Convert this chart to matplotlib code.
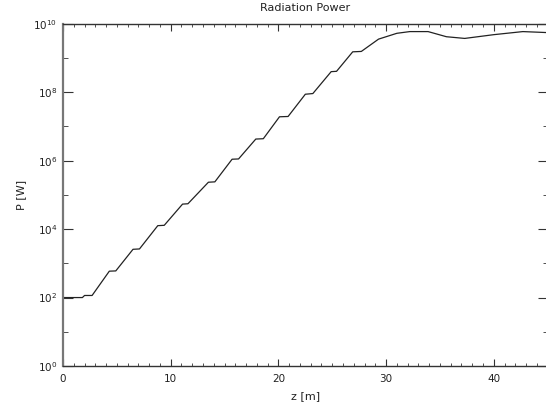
import math

import matplotlib

matplotlib.use("Agg")

import matplotlib.pyplot as plt
from matplotlib.ticker import FixedLocator, FuncFormatter, MultipleLocator, NullFormatter

# values (z in m, P in W)
z = [0.0, 1.8, 2.0, 2.7, 4.3, 4.9, 6.5, 7.1, 8.8, 9.4, 11.1, 11.6, 13.5, 14.1,
     15.7, 16.3, 17.9, 18.6, 20.1, 20.9, 22.5, 23.2, 24.9, 25.4, 26.9, 27.7,
     29.3, 30.0, 31.0, 32.2, 33.9, 35.6, 37.3, 40.0, 42.7, 44.3, 45.0]
power = [1.0e2, 1.0e2, 1.15e2, 1.15e2, 5.9e2, 6.0e2, 2.57e3, 2.63e3, 1.26e4,
         1.29e4, 5.37e4, 5.50e4, 2.34e5, 2.40e5, 1.10e6, 1.12e6, 4.27e6, 4.37e6,
         1.91e7, 1.95e7, 8.71e7, 9.12e7, 3.98e8, 4.07e8, 1.51e9, 1.55e9, 3.55e9,
         4.17e9, 5.25e9, 5.89e9, 5.89e9, 4.17e9, 3.72e9, 4.79e9, 5.89e9, 5.62e9,
         5.50e9]

title = "Radiation Power"
xlabel = "z [m]"
ylabel = "P [W]"

plt.rcParams["font.family"] = "DejaVu Sans"
plt.rcParams["mathtext.fontset"] = "dejavusans"

fig = plt.figure(figsize=(5.46, 4.09), dpi=100)
ax = fig.add_axes([0.1154, 0.1051, 0.8876, 0.8369])

ax.semilogy(z, power, color="#222222", linewidth=0.9)
ax.set_xlim(0, 45)
ax.set_ylim(1, 1e10)

ax.xaxis.set_major_locator(MultipleLocator(10))
ax.xaxis.set_minor_locator(MultipleLocator(1))
ax.yaxis.set_major_locator(FixedLocator([10.0 ** k for k in range(0, 11, 2)]))
ax.yaxis.set_minor_locator(FixedLocator([10.0 ** k for k in range(1, 10, 2)]))
ax.yaxis.set_major_formatter(FuncFormatter(lambda v, pos: r"$10^{%d}$" % round(math.log10(v))))
ax.yaxis.set_minor_formatter(NullFormatter())

ax.tick_params(axis="both", which="both", direction="in", top=True, right=True,
               colors="#333333", labelsize=7.5, labelcolor="#222222")
ax.tick_params(axis="x", which="major", length=5, pad=6)
ax.tick_params(axis="x", which="minor", length=2.5)
ax.tick_params(axis="y", which="major", length=7, pad=4)
ax.tick_params(axis="y", which="minor", length=3.6)

for side in ["left", "right", "top", "bottom"]:
    ax.spines[side].set_color("#333333")
    ax.spines[side].set_linewidth(1.0)
ax.spines["left"].set_color("#777777")
ax.spines["left"].set_linewidth(1.6)

ax.set_title(title, fontsize=8, pad=9, color="#222222")
ax.set_xlabel(xlabel, fontsize=8, labelpad=5, color="#222222")
ax.set_ylabel(ylabel, fontsize=8, labelpad=5, color="#222222")

fig.savefig("out.png", dpi=100)
